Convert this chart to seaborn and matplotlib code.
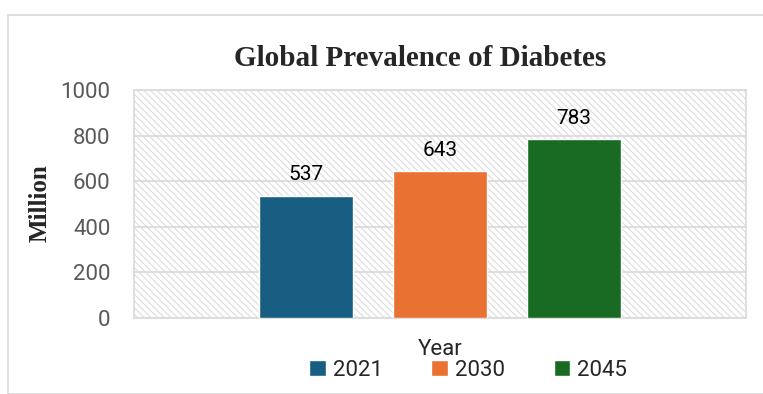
import matplotlib
matplotlib.use("Agg")
import matplotlib.pyplot as plt
import seaborn as sns
import pandas as pd
from matplotlib.patches import Rectangle, Patch

# data
years = ["2021", "2030", "2045"]
millions = [537, 643, 783]
bar_colors = ["#175E82", "#E97132", "#196B24"]

df = pd.DataFrame({"Year": years, "Million": millions})

sns.set_style("white")
plt.rcParams["font.family"] = ["Roboto", "DejaVu Sans"]
plt.rcParams["hatch.linewidth"] = 0.8

fig = plt.figure(figsize=(7.63, 3.94), dpi=100)
ax = fig.add_axes([0.1756, 0.193, 0.8021, 0.5787])

# outer chart border
fig.patches.append(Rectangle((8 / 763, 0), 1, 1 - 15 / 394, transform=fig.transFigure,
                             fill=False, edgecolor="#D9D9D9", linewidth=1.2, zorder=0))

# hatched plot area
ax.add_patch(Rectangle((0, 0), 1, 1, transform=ax.transAxes, facecolor="white",
                       edgecolor="#DCDCDC", hatch="\\\\\\\\\\", linewidth=0, zorder=0))

sns.barplot(data=df, x="Year", y="Million", hue="Year", palette=bar_colors,
            width=0.7, legend=False, ax=ax, zorder=3, saturation=1)

for i, v in enumerate(millions):
    ax.text(i, v + 50, str(v), ha="center", va="bottom", fontsize=15, color="black", zorder=4)

ax.set_xlim(-1.28, 3.28)
ax.set_ylim(0, 1000)
ax.set_yticks(range(0, 1001, 200))
ax.yaxis.grid(True, color="#D9D9D9", linewidth=1.2, zorder=1)
ax.set_axisbelow(False)
ax.tick_params(axis="y", length=0, labelsize=16, labelcolor="#595959", pad=17)
ax.tick_params(axis="x", length=0, labelbottom=False)
ax.set_xlabel("")
ax.set_ylabel("")
for s in ax.spines.values():
    s.set_color("#D9D9D9")
    s.set_linewidth(1.2)

fig.text(40 / 763, 1 - 203 / 394, "Million", rotation=90, ha="center", va="center",
         fontsize=18, fontweight="bold", family="Liberation Serif")
fig.text(420 / 763, 1 - 58 / 394, "Global Prevalence of Diabetes", ha="center", va="center",
         fontsize=21, fontweight="bold", family="Liberation Serif")

handles = [Patch(facecolor=c, label=y) for y, c in zip(years, bar_colors)]
leg = fig.legend(handles=handles, loc="center", bbox_to_anchor=(468 / 763, 1 - 360 / 394), ncol=3,
                 title="Year", frameon=False, fontsize=16, title_fontsize=16,
                 handlelength=0.75, handleheight=0.75, columnspacing=2.2, handletextpad=0.3,
                 borderpad=0, labelspacing=0)
leg.get_title().set_position((-28, 0))

fig.savefig("out.png", dpi=100)
